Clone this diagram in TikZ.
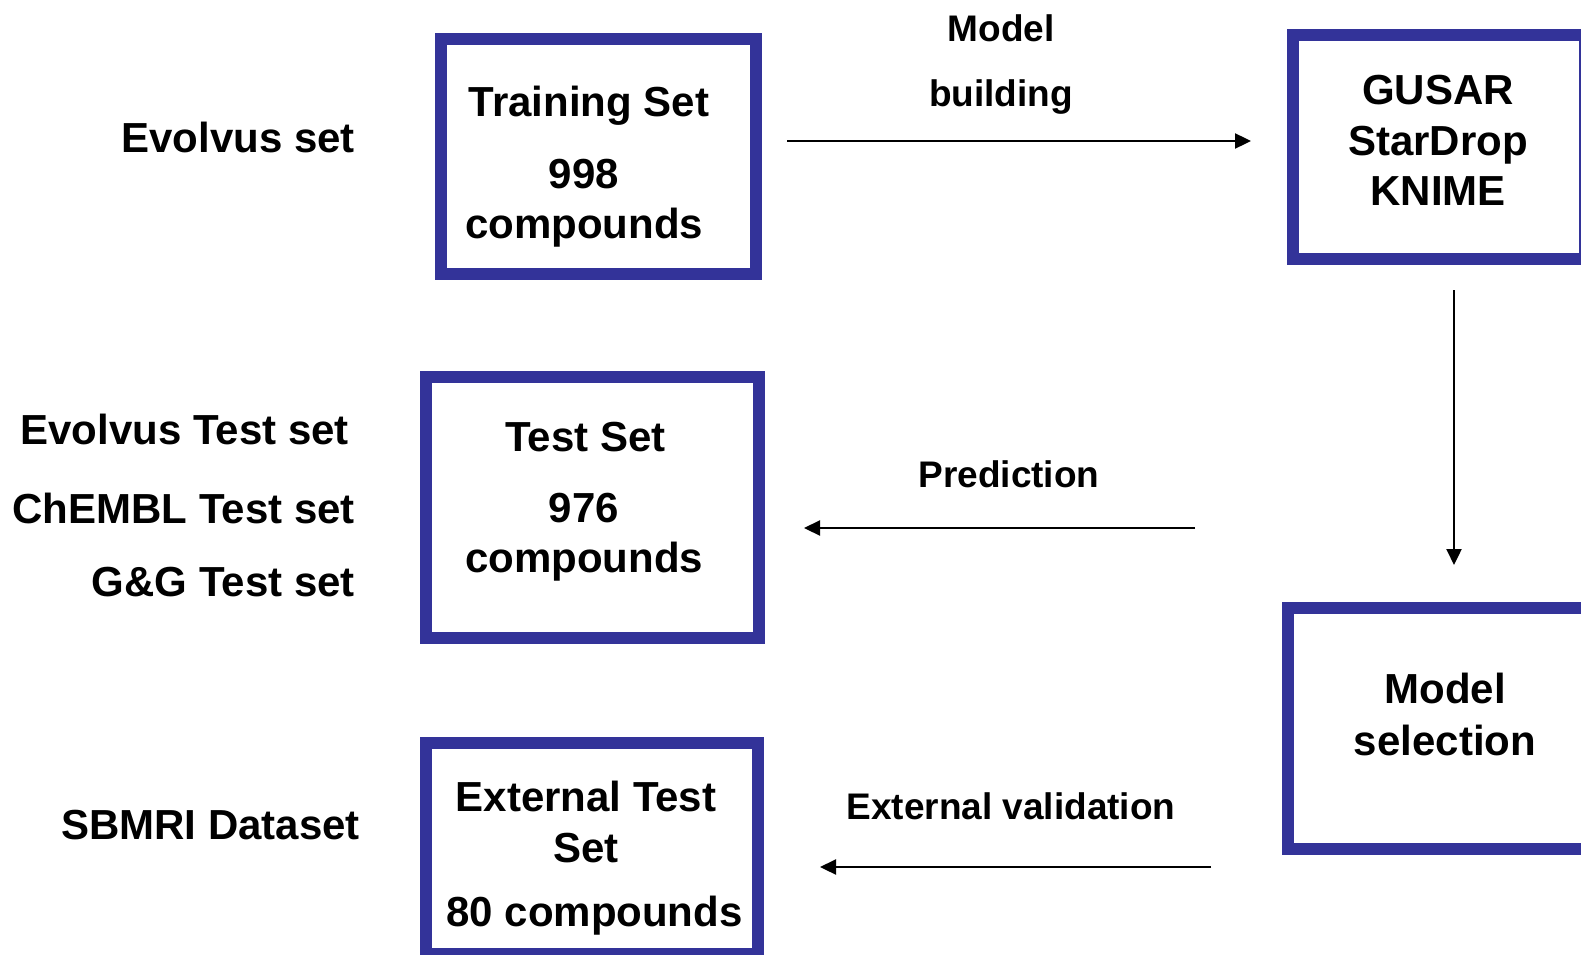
\documentclass[tikz,border=0pt]{standalone}
\usepackage{fontspec}
\setmainfont{Liberation Sans}
\usetikzlibrary{arrows.meta}
\definecolor{boxblue}{HTML}{333399}
\tikzset{
  box/.style={draw=boxblue, line width=12pt, rectangle, inner sep=0pt, outer sep=0pt, fill=none},
  txt/.style={anchor=base, inner sep=0pt, font=\fontsize{42}{50}\selectfont\bfseries},
  atxt/.style={anchor=base, inner sep=0pt, font=\fontsize{37}{44}\selectfont\bfseries},
  ltxt/.style={anchor=base east, inner sep=0pt, font=\fontsize{42}{50}\selectfont\bfseries},
  arr/.style={line width=2.3pt, -{Triangle[length=16pt,width=15pt]}}
}
\begin{document}
\begin{tikzpicture}[x=1pt,y=-1pt]
\useasboundingbox (0,0) rectangle (1581,955);
\clip (0,0) rectangle (1581,955);
% boxes
\node[box, minimum width=315pt, minimum height=235pt] (train) at (598.5,156.5) {};
\node[box, minimum width=292pt, minimum height=224pt] (gusar) at (1439,147) {};
\node[box, minimum width=313pt, minimum height=241.5pt] (msel) at (1444.5,728.25) {};
\node[box, minimum width=333pt, minimum height=260.5pt] (test) at (592.5,507.25) {};
\node[box, minimum width=332pt, minimum height=211pt] (ext) at (592,848.5) {};
% box texts
\node[txt] (trA) at (589,117) {Training Set};
\node[txt] (trB) at (584,188) {998};
\node[txt] (trC) at (584,238) {compounds};
\node[txt] (guA) at (1438,105) {GUSAR};
\node[txt] (guB) at (1438,155) {StarDrop};
\node[txt] (guC) at (1438,205) {KNIME};
\node[txt] (msA) at (1445,703) {Model};
\node[txt] (msB) at (1445,755) {selection};
\node[txt] (teA) at (585.5,451) {Test Set};
\node[txt] (teB) at (584,522) {976};
\node[txt] (teC) at (584,572) {compounds};
\node[txt] (exA) at (586,811) {External Test};
\node[txt] (exB) at (586,862) {Set};
\node[txt] (exC) at (594.5,926) {80 compounds};
% left labels
\node[ltxt] (l1) at (355,152) {Evolvus set};
\node[ltxt] (l2) at (349,444) {Evolvus Test set};
\node[ltxt] (l3) at (355,523) {ChEMBL Test set};
\node[ltxt] (l4) at (355,596) {G\&G Test set};
\node[ltxt] (l5) at (360,839) {SBMRI Dataset};
% arrow labels
\node[atxt] (mbA) at (1001,42) {Model};
\node[atxt] (mbB) at (1001,107) {building};
\node[atxt] (pred) at (1009,487) {Prediction};
\node[atxt] (extv) at (1011,819) {External validation};
% arrow end points
\coordinate (a1s) at (787,141);
\coordinate (a1e) at (1251,141);
\coordinate (a2s) at (1454,290);
\coordinate (a2e) at (1454,565);
\coordinate (a3s) at (1195,528);
\coordinate (a3e) at (804,528);
\coordinate (a4s) at (1211,867);
\coordinate (a4e) at (820,867);
\draw[arr] (a1s) -- (a1e);
\draw[arr] (a2s) -- (a2e);
\draw[arr] (a3s) -- (a3e);
\draw[arr] (a4s) -- (a4e);
\end{tikzpicture}
\end{document}
